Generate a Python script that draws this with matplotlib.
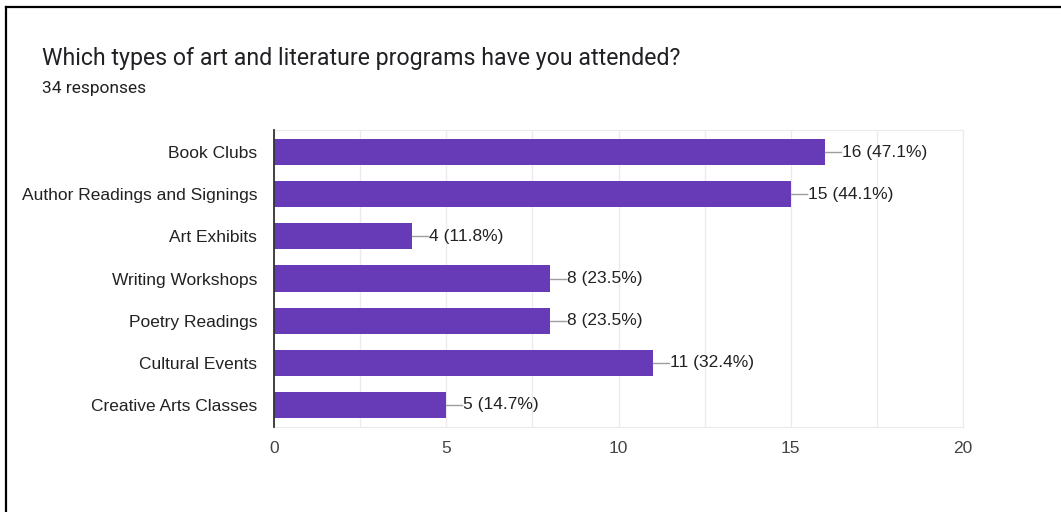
import matplotlib.pyplot as plt
from matplotlib.lines import Line2D
import numpy as np

plt.rcParams['font.family'] = ['Liberation Sans', 'DejaVu Sans']

categories = ["Book Clubs", "Author Readings and Signings", "Art Exhibits",
              "Writing Workshops", "Poetry Readings", "Cultural Events",
              "Creative Arts Classes"]
counts = [16, 15, 4, 8, 8, 11, 5]
total = 34
title = "Which types of art and literature programs have you attended?"
subtitle = f"{total} responses"
xticks = [0, 5, 10, 15, 20]

W, H = 1061, 512
fig = plt.figure(figsize=(W / 100, H / 100), dpi=100)

# outer card border (top and left only visible)
fig.add_artist(Line2D([5.5 / W, 5.5 / W], [0, 1 - 6.5 / H], color='black', lw=1.6))
fig.add_artist(Line2D([5.5 / W, 1], [1 - 6.5 / H, 1 - 6.5 / H], color='black', lw=1.6))

fig.text(42 / W, 1 - 58 / H, title, fontsize=16.7, color='#202124', va='center',
         family=['Roboto', 'DejaVu Sans'])
fig.text(42 / W, 1 - 89 / H, subtitle, fontsize=12.5, color='#202124', va='center',
         family=['Roboto', 'DejaVu Sans'])

ax = fig.add_axes([274 / W, 1 - 427 / H, (963 - 274) / W, (427 - 130) / H])
y = np.arange(len(categories))
ax.barh(y, counts, height=0.62, color='#673ab7', zorder=3)

ax.set_xlim(0, 20)
ax.set_ylim(len(categories) - 0.47, -0.53)
ax.set_yticks(y)
ax.set_yticklabels(categories, fontsize=12.5, color='#222222')
ax.set_xticks(xticks)
ax.set_xticklabels([str(t) for t in xticks], fontsize=12.5, color='#444444')
ax.set_xticks(np.arange(0, 20.1, 2.5), minor=True)
ax.grid(True, axis='x', which='both', color='#ebebeb', lw=1, zorder=0)
ax.tick_params(axis='both', which='both', length=0)
ax.tick_params(axis='y', pad=12)
ax.tick_params(axis='x', pad=10)

for side in ['top', 'right', 'bottom']:
    ax.spines[side].set_color('#ebebeb')
ax.spines['left'].set_color('#333333')
ax.spines['left'].set_linewidth(1.3)
ax.spines['left'].set_zorder(4)

px = 20 / (963 - 274)
for yi, c in zip(y, counts):
    ax.plot([c, c + 16 * px], [yi, yi], color='#9e9e9e', lw=1, zorder=3)
    ax.text(c + 17 * px, yi, f"{c} ({c / total * 100:.1f}%)", va='center', ha='left',
            fontsize=12.5, color='#222222')

fig.savefig('out.png', dpi=100)
